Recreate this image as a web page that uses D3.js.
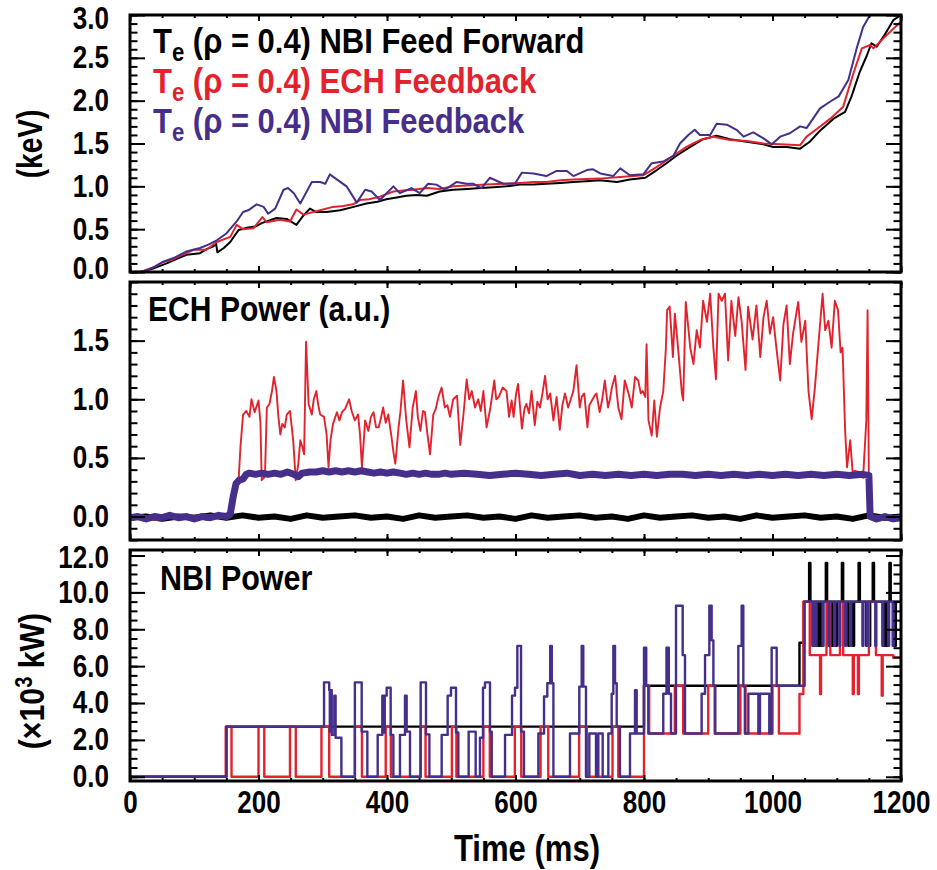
<!DOCTYPE html>
<html>
<head>
<meta charset="utf-8">
<script src="https://cdn.jsdelivr.net/npm/d3@7"></script>
<style>
  body { margin: 0; background: #fff; }
  svg text { font-family: "Liberation Sans", Arial, sans-serif; font-weight: bold; }
</style>
</head>
<body>
<div id="chart"></div>
<script>
// tick labels
const timeTicks = [0, 200, 400, 600, 800, 1000, 1200];
const teTicks = [0, 0.5, 1.0, 1.5, 2.0, 2.5, 3.0];
const echTicks = [0, 0.5, 1.0, 1.5];
const nbiTicks = [0, 2, 4, 6, 8, 10, 12];

// Te (rho = 0.4), keV  -- [time ms, value]
const teFeedForward = [[0,0.0],[16,0.0],[36,0.04],[57,0.1],[72,0.15],[88,0.2],[109,0.22],[120,0.27],[130,0.3],[134,0.33],[136,0.23],[146,0.28],[156,0.35],[169,0.49],[184,0.52],[195,0.53],[205,0.57],[216,0.6],[228,0.63],[244,0.62],[259,0.55],[270,0.66],[280,0.74],[290,0.70],[306,0.70],[327,0.72],[348,0.76],[368,0.80],[385,0.82],[399,0.85],[415,0.87],[430,0.89],[446,0.90],[462,0.89],[482,0.94],[503,0.96],[525,0.97],[545,0.98],[566,0.99],[586,1.0],[607,1.02],[628,1.02],[648,1.03],[670,1.04],[690,1.05],[710,1.06],[731,1.07],[758,1.05],[778,1.08],[802,1.10],[820,1.19],[835,1.27],[851,1.36],[872,1.46],[892,1.55],[913,1.59],[934,1.55],[960,1.52],[986,1.49],[1001,1.46],[1022,1.46],[1043,1.44],[1058,1.52],[1074,1.65],[1095,1.79],[1113,1.87],[1123,2.05],[1136,2.34],[1147,2.53],[1154,2.67],[1162,2.63],[1173,2.75],[1188,2.94],[1200,3.0]];
const teEchFeedback = [[0,0.0],[20,0.01],[38,0.06],[52,0.12],[64,0.14],[78,0.19],[99,0.26],[119,0.26],[135,0.35],[156,0.41],[166,0.55],[176,0.50],[192,0.51],[206,0.64],[213,0.58],[233,0.61],[249,0.59],[259,0.73],[270,0.67],[296,0.72],[316,0.76],[332,0.77],[347,0.79],[358,0.84],[372,0.85],[389,0.88],[410,0.94],[425,0.95],[441,0.96],[462,0.98],[482,0.97],[503,1.0],[524,1.01],[555,1.02],[580,1.03],[607,1.04],[628,1.05],[648,1.05],[670,1.07],[690,1.08],[731,1.09],[763,1.11],[799,1.13],[812,1.19],[825,1.25],[846,1.36],[866,1.46],[887,1.54],[908,1.58],[934,1.54],[960,1.53],[986,1.50],[1012,1.49],[1043,1.48],[1053,1.58],[1069,1.67],[1090,1.79],[1110,1.93],[1126,2.32],[1139,2.61],[1152,2.65],[1157,2.61],[1173,2.73],[1188,2.84],[1200,2.92]];
const teNbiFeedback = [[0,0.0],[20,0.0],[38,0.06],[52,0.12],[70,0.17],[88,0.24],[109,0.28],[122,0.32],[135,0.37],[150,0.45],[166,0.59],[176,0.70],[184,0.72],[197,0.79],[208,0.76],[215,0.68],[226,0.74],[239,0.96],[246,0.98],[255,0.92],[265,0.80],[283,1.05],[296,1.05],[304,1.03],[311,1.14],[324,1.07],[337,1.0],[353,0.81],[366,0.96],[376,0.94],[389,0.84],[410,1.0],[420,0.92],[438,0.98],[451,0.92],[464,1.03],[477,1.02],[490,0.96],[508,1.05],[524,1.03],[534,1.03],[547,0.98],[560,1.10],[581,1.03],[599,1.03],[610,1.16],[628,1.15],[648,1.12],[664,1.18],[680,1.18],[690,1.12],[711,1.19],[720,1.20],[732,1.15],[752,1.12],[763,1.21],[778,1.13],[799,1.14],[812,1.27],[830,1.29],[846,1.36],[856,1.50],[869,1.60],[879,1.66],[887,1.60],[903,1.60],[913,1.73],[929,1.72],[944,1.66],[955,1.58],[970,1.63],[986,1.56],[999,1.49],[1012,1.58],[1027,1.62],[1043,1.70],[1053,1.68],[1074,1.91],[1090,1.99],[1103,2.05],[1118,2.24],[1131,2.61],[1141,2.86],[1152,3.0],[1165,3.3]];

// ECH power, a.u.
const echFeedForward = [[0,-0.01],[25,0.0],[50,-0.02],[75,0.0],[100,-0.01],[125,0.01],[150,-0.01],[175,0.01],[200,-0.01],[225,0.0],[250,-0.02],[275,0.01],[300,-0.01],[325,0.0],[350,0.01],[375,-0.01],[400,0.0],[425,-0.02],[450,0.01],[475,-0.01],[500,0.0],[525,0.01],[550,-0.01],[575,0.0],[600,-0.02],[625,0.01],[650,-0.01],[675,0.0],[700,0.01],[725,-0.01],[750,0.0],[775,-0.02],[800,0.01],[825,-0.01],[850,0.0],[875,0.01],[900,-0.01],[925,0.0],[950,-0.02],[975,0.01],[1000,-0.01],[1025,0.0],[1050,0.01],[1075,-0.01],[1100,0.0],[1125,-0.02],[1150,0.01],[1175,-0.01],[1200,0.0]];
const echEchFeedback = [[0,-0.02],[20,0.01],[40,-0.03],[60,0.0],[80,-0.02],[100,0.01],[120,-0.03],[140,0.0],[155,0.02],[160,0.15],[166,0.31],[169,0.31],[172,0.60],[176,0.87],[181,0.90],[186,0.85],[189,1.0],[194,0.89],[200,0.99],[203,0.8],[205,0.31],[210,0.34],[213,0.93],[217,0.96],[221,1.07],[224,1.19],[228,1.07],[231,0.85],[234,0.70],[237,0.79],[241,0.76],[244,0.87],[249,0.90],[254,0.65],[258,0.31],[262,0.45],[265,0.65],[268,0.60],[271,0.53],[274,1.49],[278,0.96],[283,0.87],[286,1.0],[290,1.07],[293,0.95],[296,0.87],[302,0.85],[306,0.70],[309,0.42],[312,0.65],[316,0.79],[322,0.89],[326,0.82],[330,0.89],[335,0.92],[341,1.0],[345,0.90],[350,0.82],[355,0.87],[358,0.70],[361,0.42],[366,0.82],[371,0.73],[375,0.85],[379,0.89],[383,0.76],[387,0.76],[391,0.85],[394,0.93],[398,0.80],[402,0.87],[407,0.68],[410,0.55],[413,0.45],[418,0.76],[421,0.90],[425,1.16],[430,0.82],[435,0.59],[440,0.93],[445,1.07],[448,0.85],[452,0.73],[456,0.90],[459,0.89],[463,0.70],[467,0.53],[472,0.87],[476,0.92],[480,1.02],[485,1.10],[490,0.93],[494,0.95],[498,0.85],[503,1.0],[509,1.03],[514,0.61],[519,0.87],[524,1.17],[528,1.0],[532,1.07],[537,0.93],[542,1.0],[546,0.90],[550,1.07],[555,0.76],[561,0.93],[567,1.16],[570,1.0],[574,1.02],[580,1.10],[586,1.07],[590,0.85],[594,0.99],[597,0.85],[601,1.05],[604,1.13],[610,0.75],[614,0.92],[617,0.96],[621,0.88],[625,1.07],[630,0.78],[634,0.98],[638,0.93],[642,1.05],[646,1.2],[650,1.0],[654,1.05],[659,0.82],[664,1.02],[669,0.74],[673,0.95],[677,1.05],[682,0.93],[686,1.0],[690,1.07],[695,1.29],[700,0.93],[703,1.02],[707,1.05],[712,0.76],[715,0.95],[719,0.99],[723,1.03],[726,1.05],[731,0.89],[735,1.0],[739,1.16],[744,0.93],[747,1.0],[750,1.10],[755,1.20],[760,0.93],[765,0.83],[770,1.16],[776,1.05],[781,0.93],[786,1.19],[791,1.16],[795,1.05],[798,1.07],[802,1.02],[804,1.47],[807,0.82],[812,0.69],[816,0.99],[820,0.68],[825,0.93],[830,1.07],[834,1.43],[836,1.76],[840,1.79],[845,1.36],[848,1.73],[853,1.44],[859,1.05],[861,0.99],[865,1.83],[872,1.44],[877,1.30],[882,1.59],[887,1.44],[892,1.84],[898,1.66],[903,1.90],[908,1.44],[912,1.17],[916,1.90],[921,1.84],[926,1.90],[931,1.33],[936,1.84],[942,1.54],[947,1.87],[952,1.66],[958,1.25],[962,1.79],[969,1.51],[975,1.80],[981,1.36],[986,1.70],[991,1.84],[996,1.56],[1001,1.70],[1006,1.44],[1012,1.16],[1017,1.64],[1022,1.80],[1027,1.30],[1032,1.56],[1040,1.83],[1045,1.49],[1051,1.67],[1056,1.07],[1061,0.83],[1066,1.10],[1071,1.44],[1078,1.90],[1082,1.59],[1087,1.67],[1092,1.44],[1097,1.84],[1102,1.76],[1106,1.40],[1109,1.44],[1113,0.74],[1116,0.42],[1121,0.65],[1125,0.36],[1128,0.39],[1134,0.38],[1141,0.33],[1146,0.82],[1148,1.76],[1150,0.31],[1151,0.0],[1160,-0.02],[1170,0.01],[1180,-0.03],[1190,0.0],[1200,-0.02]];
const echNbiFeedback = [[0,-0.01],[12,0.0],[25,-0.02],[38,0.0],[50,-0.01],[62,0.01],[75,-0.01],[88,0.0],[100,-0.02],[112,0.0],[125,-0.01],[138,0.01],[150,0.0],[156,0.02],[161,0.18],[165,0.28],[170,0.31],[176,0.32],[181,0.36],[186,0.37],[195,0.36],[205,0.37],[215,0.36],[225,0.37],[235,0.36],[245,0.38],[255,0.36],[262,0.34],[268,0.37],[280,0.38],[290,0.38],[300,0.39],[310,0.38],[320,0.39],[330,0.38],[340,0.39],[350,0.38],[360,0.39],[370,0.38],[380,0.37],[390,0.38],[400,0.37],[410,0.38],[420,0.37],[430,0.36],[440,0.37],[450,0.36],[460,0.37],[470,0.36],[480,0.36],[490,0.37],[500,0.36],[520,0.37],[540,0.36],[560,0.35],[580,0.36],[600,0.37],[620,0.36],[640,0.35],[660,0.36],[680,0.37],[700,0.35],[720,0.36],[740,0.35],[760,0.36],[780,0.35],[800,0.36],[820,0.35],[840,0.36],[860,0.36],[880,0.35],[900,0.36],[920,0.35],[940,0.36],[960,0.35],[980,0.36],[1000,0.35],[1020,0.36],[1040,0.35],[1060,0.36],[1080,0.35],[1100,0.36],[1120,0.35],[1140,0.36],[1150,0.35],[1152,0.0],[1162,-0.02],[1175,0.0],[1188,-0.02],[1200,-0.01]];

// NBI power, 10^3 kW (step values: [start ms, level])
const nbiFeedForward = [[0,0],[150,2.72],[800,4.94],[1042,7.27],[1049,9.5],[1057,11.6],[1059,9.5],[1063,7.1],[1065,9.5],[1071,7.1],[1073,9.5],[1076,7.1],[1078,9.5],[1083,11.6],[1085,9.5],[1092,7.1],[1094,9.5],[1098,7.1],[1100,9.5],[1108,11.6],[1110,9.5],[1118,7.1],[1120,9.5],[1125,7.1],[1127,9.5],[1134,11.6],[1136,9.5],[1146,7.1],[1148,9.5],[1150,7.1],[1152,9.5],[1156,11.6],[1158,9.5],[1172,7.1],[1174,9.5],[1177,7.1],[1179,9.5],[1182,11.6],[1184,9.5],[1190,7.1],[1192,9.5],[1200,9.5]];
const nbiEchFeedback = [[0,0],[149,2.72],[158,0],[200,2.72],[209,0],[249,2.72],[258,0],[298,2.72],[310,0],[350,2.72],[361,0],[398,2.72],[406,0],[452,2.72],[460,0],[501,2.72],[508,0],[550,2.72],[560,0],[599,2.72],[609,0],[639,2.72],[651,0],[699,2.72],[711,0],[751,2.72],[760,0],[800,4.94],[808,2.35],[848,4.94],[861,2.35],[900,4.94],[910,2.35],[950,4.94],[958,2.35],[1000,4.94],[1010,2.35],[1042,4.49],[1048,9.5],[1058,6.6],[1074,4.49],[1075.5,6.6],[1084,9.5],[1090,6.6],[1105,9.5],[1110,6.6],[1125,4.49],[1126.5,6.6],[1133,4.49],[1134.5,6.6],[1150,9.5],[1161,6.6],[1170,4.4],[1171.5,6.6],[1188,6.45],[1200,6.45]];
const nbiNbiFeedback = [[0,0],[150,2.72],[302,5.12],[310,4.7],[311,2.45],[312.5,4.7],[314,2.27],[318,4.4],[320,2.12],[329,0],[350,5.12],[360.6,2.45],[369.4,0],[385.5,2.27],[392.7,4.4],[395,2.4],[396.5,4.4],[399.5,4.83],[405.7,2.27],[409.9,0],[420.2,2.27],[428,4.4],[430.6,2.45],[435.8,0],[452.4,5.12],[460.7,2.3],[466,0],[485.1,2.27],[494.4,4.4],[499.6,4.83],[507.4,2.4],[511,0],[527.1,2.45],[538,0],[544.7,2.12],[549.4,4.83],[552.5,5.12],[560.3,2.45],[563,0],[583.7,2.27],[594.6,4.4],[599.2,4.83],[602.9,7.1],[608.6,2.45],[613.2,0],[635.6,2.35],[644.4,4.35],[649.5,5.07],[654,7.1],[656.5,5.07],[659,0],[684.8,2.35],[699.3,4.89],[703,7.1],[705.5,4.89],[709.7,0],[714.9,2.35],[725.3,0],[728.9,2.35],[735.7,0],[744.5,2.35],[749.7,4.5],[752.3,7.1],[754.9,5.07],[757.5,2.72],[762.6,0],[778.2,2.35],[786,4.7],[788.6,2.35],[800,7.0],[803.5,4.94],[806.7,2.35],[830,4.5],[835,7.0],[838.6,4.5],[842,2.35],[849.8,9.28],[860.2,6.6],[863.8,2.35],[889.7,4.5],[895,6.6],[901.7,9.28],[905.3,7.4],[908,4.94],[911,2.35],[946.8,7.1],[952,9.28],[954.6,4.89],[957,2.35],[962.4,4.5],[978,2.35],[980.5,4.5],[995,2.35],[998.7,7.0],[1006.5,4.94],[1050,9.5],[1062,7.1],[1063.5,9.5],[1067,7.1],[1068.5,9.5],[1078,7.1],[1079.5,9.5],[1087,7.1],[1088.5,9.5],[1096,7.1],[1097.5,9.5],[1104,7.1],[1105.5,9.5],[1113,7.1],[1114.5,9.5],[1121,7.1],[1122.5,9.5],[1140,7.1],[1141.5,9.5],[1147,7.1],[1148.5,9.5],[1160,7.1],[1161.5,9.5],[1171,7.1],[1172.5,9.5],[1180,7.1],[1181.5,9.5],[1187,7.1],[1188.5,9.5],[1200,9.5]];

const BLACK = '#000000', RED = '#e2232e', PURPLE = '#452f8a';
const SQUEEZE = 0.84; // condensed look of the original lettering

const svg = d3.select('#chart').append('svg')
  .attr('width', 937)
  .attr('height', 870);

const x0 = 130, x1 = 901;
const x = d3.scaleLinear().domain([0, 1200]).range([x0, x1]);
const xMinor = d3.range(0, 1201, 50);

// labelNudge: pixel shift of the end labels so they stay inside the frame height
const panels = [
  { top: 15, bottom: 272, domain: [0, 3], ticks: teTicks, minor: d3.range(0, 31, 1).map(d => d / 10),
    labelNudge: { 3: 4, 0: -3 },
    curve: d3.curveLinear,
    series: [[teFeedForward, BLACK, 2], [teEchFeedback, RED, 2], [teNbiFeedback, PURPLE, 2]] },
  { top: 282, bottom: 540, domain: [-0.2, 2.0], ticks: echTicks, minor: d3.range(-2, 21, 1).map(d => d / 10),
    labelNudge: {},
    curve: d3.curveLinear,
    series: [[echFeedForward, BLACK, 6], [echEchFeedback, RED, 1.9], [echNbiFeedback, PURPLE, 7]] },
  { top: 550, bottom: 781, domain: [-0.23, 12.3], ticks: nbiTicks, minor: d3.range(0, 25, 1).map(d => d / 2),
    labelNudge: { 12: 2 },
    curve: d3.curveStepAfter,
    series: [[nbiFeedForward, BLACK, 2.4], [nbiEchFeedback, RED, 2.4], [nbiNbiFeedback, PURPLE, 2.4]] }
];

function styleAxis(g, origin) {
  g.select('.domain').remove();
  g.attr('font-size', null).attr('font-family', null);
  g.selectAll('.tick line').attr('stroke', '#000').attr('stroke-width', 2);
  g.selectAll('.tick text')
    .attr('font-size', 31)
    .attr('fill', '#000')
    .style('transform-box', 'fill-box')
    .style('transform-origin', origin || 'center')
    .style('transform', `scaleX(${SQUEEZE})`);
}

panels.forEach((p, i) => {
  const y = d3.scaleLinear().domain(p.domain).range([p.bottom, p.top]);
  const g = svg.append('g');

  g.append('clipPath').attr('id', `clip${i}`)
    .append('rect')
    .attr('x', x0).attr('y', p.top)
    .attr('width', x1 - x0).attr('height', p.bottom - p.top);

  // data lines
  const line = d3.line()
    .x(d => x(d[0]))
    .y(d => y(d[1]))
    .curve(p.curve);
  p.series.forEach(([data, color, w]) => {
    g.append('path')
      .datum(data)
      .attr('clip-path', `url(#clip${i})`)
      .attr('fill', 'none')
      .attr('stroke', color)
      .attr('stroke-width', w)
      .attr('stroke-linejoin', 'round')
      .attr('d', line);
  });

  // y ticks, left and right (inward)
  g.append('g').attr('transform', `translate(${x0},0)`)
    .call(d3.axisLeft(y).tickValues(p.minor).tickSize(-7.5).tickFormat(''))
    .call(styleAxis);
  g.append('g').attr('transform', `translate(${x0},0)`)
    .call(d3.axisLeft(y).tickValues(p.ticks).tickSize(-15).tickPadding(21).tickFormat(d3.format('.1f')))
    .call(styleAxis, 'right center')
    .selectAll('.tick text')
    .attr('y', d => p.labelNudge[d] || 0);
  g.append('g').attr('transform', `translate(${x1},0)`)
    .call(d3.axisRight(y).tickValues(p.minor).tickSize(-7.5).tickFormat(''))
    .call(styleAxis);
  g.append('g').attr('transform', `translate(${x1},0)`)
    .call(d3.axisRight(y).tickValues(p.ticks).tickSize(-15).tickFormat(''))
    .call(styleAxis);

  // x ticks, top and bottom (inward)
  g.append('g').attr('transform', `translate(0,${p.top})`)
    .call(d3.axisTop(x).tickValues(xMinor).tickSize(-3).tickFormat(''))
    .call(styleAxis);
  g.append('g').attr('transform', `translate(0,${p.top})`)
    .call(d3.axisTop(x).tickValues(timeTicks).tickSize(-6).tickFormat(''))
    .call(styleAxis);
  g.append('g').attr('transform', `translate(0,${p.bottom})`)
    .call(d3.axisBottom(x).tickValues(xMinor).tickSize(-3).tickFormat(''))
    .call(styleAxis);
  g.append('g').attr('transform', `translate(0,${p.bottom})`)
    .call(d3.axisBottom(x).tickValues(timeTicks).tickSize(-6).tickPadding(10)
      .tickFormat(i === panels.length - 1 ? d3.format('d') : ''))
    .call(styleAxis, 'center');

  // frame
  g.append('rect')
    .attr('x', x0).attr('y', p.top)
    .attr('width', x1 - x0).attr('height', p.bottom - p.top)
    .attr('fill', 'none')
    .attr('stroke', '#000')
    .attr('stroke-width', 3);
});

// legend in top panel
const legendItems = [
  ['NBI Feed Forward', BLACK],
  ['ECH Feedback', RED],
  ['NBI Feedback', PURPLE]
];
legendItems.forEach(([name, color], i) => {
  const t = svg.append('text')
    .attr('transform', `translate(153,${53 + i * 40}) scale(0.885,1)`)
    .attr('fill', color)
    .attr('font-size', 35);
  t.append('tspan').text('T');
  t.append('tspan').attr('font-size', 25).attr('dy', 8).text('e');
  t.append('tspan').attr('dy', -8).text(` (\u03c1 = 0.4) ${name}`);
});

// panel labels
svg.append('text').attr('transform', 'translate(148,321) scale(0.86,1)')
  .attr('font-size', 35).text('ECH Power (a.u.)');
svg.append('text').attr('transform', 'translate(160,590) scale(0.87,1)')
  .attr('font-size', 35).text('NBI Power');

// axis titles
svg.append('text')
  .attr('transform', 'translate(42,144) rotate(-90) scale(0.78,1)')
  .attr('text-anchor', 'middle')
  .attr('font-size', 36)
  .text('(keV)');

const nbiTitle = svg.append('text')
  .attr('transform', `translate(44,681) rotate(-90) scale(${SQUEEZE},1)`)
  .attr('text-anchor', 'middle')
  .attr('font-size', 36);
nbiTitle.append('tspan').text('(\u00d710');
nbiTitle.append('tspan').attr('font-size', 24).attr('dy', -12).text('3');
nbiTitle.append('tspan').attr('dy', 12).text(' kW)');

svg.append('text')
  .attr('transform', `translate(527,861) scale(${SQUEEZE},1)`)
  .attr('text-anchor', 'middle')
  .attr('font-size', 37)
  .text('Time (ms)');
</script>
</body>
</html>
